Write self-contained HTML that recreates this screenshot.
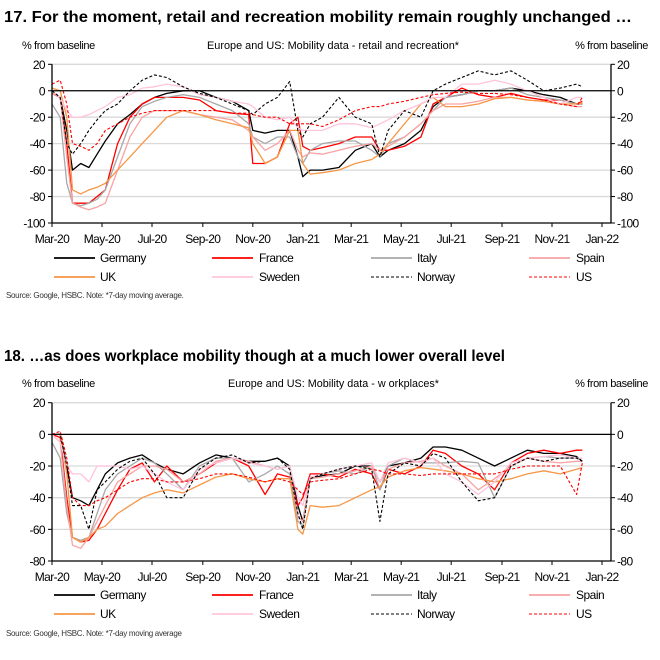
<!DOCTYPE html>
<html><head><meta charset="utf-8"><style>
body{margin:0;background:#fff;}
svg{display:block;font-family:"Liberation Sans",Arial,sans-serif;}
</style></head><body>
<svg id="s" width="660" height="660" viewBox="0 0 660 660">
<text x="4" y="22" font-size="16" font-weight="bold" textLength="628" lengthAdjust="spacingAndGlyphs">17. For the moment, retail and recreation mobility remain roughly unchanged …</text>
<text x="22" y="49" font-size="11" letter-spacing="-0.4">% from baseline</text>
<text x="207" y="49" font-size="11" textLength="252" lengthAdjust="spacingAndGlyphs">Europe and US: Mobility data - retail and recreation*</text>
<text x="648" y="49" font-size="11" letter-spacing="-0.4" text-anchor="end">% from baseline</text>
<text x="6" y="298" font-size="8" letter-spacing="-0.3" fill="#333">Source: Google, HSBC. Note: *7-day moving average.</text>
<text x="4" y="361" font-size="16" font-weight="bold" textLength="501" lengthAdjust="spacingAndGlyphs">18. …as does workplace mobility though at a much lower overall level</text>
<text x="22" y="387" font-size="11" letter-spacing="-0.4">% from baseline</text>
<text x="228" y="387" font-size="11" textLength="211" lengthAdjust="spacingAndGlyphs">Europe and US: Mobility data - w orkplaces*</text>
<text x="648" y="387" font-size="11" letter-spacing="-0.4" text-anchor="end">% from baseline</text>
<text x="6" y="636" font-size="8" letter-spacing="-0.3" fill="#333">Source: Google, HSBC. Note: *7-day moving average</text>
</svg>
<script>
const seriesNames=["Germany","France","Italy","Spain","UK","Sweden","Norway","US"];
const xTickLabels=["Mar-20","May-20","Jul-20","Sep-20","Nov-20","Jan-21","Mar-21","May-21","Jul-21","Sep-21","Nov-21","Jan-22"];
const xTickDays=[0,61,122,184,245,306,365,426,487,549,610,671];
const yTicks1=[20,0,-20,-40,-60,-80,-100];
const yTicks2=[20,0,-20,-40,-60,-80];
const dates1=[0,10,18,25,35,45,55,65,80,95,110,125,140,160,180,200,220,240,245,260,275,290,300,306,315,330,350,370,390,400,410,430,450,465,480,500,520,540,560,580,600,620,640,647];
const retailGermany=[-2,-5,-30,-60,-55,-58,-48,-38,-25,-18,-10,-5,-2,0,0,-5,-8,-15,-30,-32,-30,-30,-50,-65,-60,-60,-58,-45,-40,-50,-45,-40,-30,-12,-5,-3,0,0,2,0,-3,-5,-10,-10];
const retailFrance=[-2,-5,-40,-85,-85,-85,-80,-75,-40,-20,-10,-5,-5,-5,-7,-15,-17,-18,-55,-55,-50,-25,-20,-42,-45,-43,-40,-35,-35,-45,-45,-42,-35,-10,-5,2,-3,-5,-2,-5,-7,-7,-10,-8];
const retailItaly=[-10,-20,-70,-85,-87,-85,-82,-75,-50,-25,-12,-8,-5,-3,-5,-10,-15,-25,-35,-40,-35,-35,-50,-55,-45,-40,-38,-38,-45,-50,-40,-35,-25,-15,-5,-3,0,0,2,-3,-5,-7,-10,-10];
const retailSpain=[-2,-5,-50,-85,-88,-90,-88,-85,-60,-35,-20,-15,-15,-15,-18,-20,-22,-30,-35,-45,-40,-30,-45,-50,-47,-48,-45,-42,-40,-45,-42,-35,-25,-15,-10,-10,-8,-5,-5,-7,-8,-10,-12,-12];
const retailUK=[2,0,-20,-75,-78,-75,-73,-70,-60,-50,-40,-30,-20,-15,-18,-22,-25,-28,-40,-55,-50,-30,-30,-55,-63,-62,-60,-55,-52,-48,-40,-25,-10,-5,-12,-12,-10,-6,-5,-7,-8,-10,-10,-9];
const retailSweden=[0,-5,-15,-20,-20,-18,-15,-12,-5,-3,2,3,5,3,-3,-5,-8,-10,-12,-20,-22,-20,-28,-30,-30,-30,-25,-25,-28,-25,-22,-15,-10,-5,-5,5,5,8,5,0,-5,-10,-5,-5];
const retailNorway=[0,-5,-40,-48,-40,-30,-22,-15,-10,0,8,12,10,3,-2,-5,-10,-15,-18,-10,-5,7,-30,-35,-25,-20,-5,-20,-25,-50,-30,-15,-20,0,5,10,15,12,15,8,0,2,5,3];
const retailUS=[5,8,-10,-40,-42,-45,-40,-30,-25,-20,-17,-15,-15,-15,-15,-15,-17,-17,-18,-20,-20,-25,-25,-25,-25,-27,-22,-15,-12,-12,-10,-8,-5,-3,-2,-1,-2,-2,-3,-5,-7,-10,-12,-5];
const dates2=[0,10,18,25,35,45,55,65,80,95,110,125,140,160,180,200,220,240,260,275,290,300,306,315,330,350,370,390,400,410,430,450,465,480,500,520,540,560,580,600,620,640,647];
const workGermany=[0,0,-20,-40,-42,-45,-35,-25,-18,-15,-13,-18,-22,-25,-18,-13,-15,-17,-17,-15,-20,-45,-55,-28,-26,-25,-20,-20,-30,-20,-18,-15,-8,-8,-10,-15,-20,-15,-10,-12,-12,-14,-17];
const workFrance=[0,-2,-40,-65,-68,-67,-60,-50,-35,-22,-18,-30,-20,-30,-25,-18,-15,-20,-38,-25,-27,-45,-40,-25,-25,-27,-22,-25,-35,-22,-25,-20,-10,-12,-20,-25,-35,-18,-12,-10,-12,-10,-10];
const workItaly=[-5,-15,-50,-65,-67,-65,-50,-35,-25,-20,-15,-18,-25,-35,-20,-15,-15,-30,-25,-20,-25,-55,-58,-28,-25,-23,-25,-20,-35,-20,-15,-18,-18,-18,-17,-18,-40,-20,-15,-14,-15,-15,-15];
const workSpain=[0,-5,-45,-70,-72,-65,-55,-45,-30,-25,-20,-20,-22,-30,-25,-17,-15,-17,-20,-22,-20,-52,-55,-28,-27,-25,-23,-20,-30,-22,-18,-17,-15,-20,-25,-35,-28,-20,-15,-17,-18,-17,-17];
const workUK=[0,0,-25,-65,-68,-65,-60,-58,-50,-45,-40,-37,-35,-37,-32,-27,-25,-28,-30,-28,-28,-60,-63,-45,-46,-45,-40,-35,-33,-27,-23,-21,-22,-23,-25,-28,-30,-28,-25,-23,-25,-22,-21];
const workSweden=[0,-5,-20,-25,-25,-30,-20,-20,-20,-22,-20,-25,-30,-35,-22,-18,-15,-18,-20,-22,-20,-40,-45,-27,-25,-22,-20,-18,-30,-18,-15,-18,-15,-25,-30,-38,-30,-18,-15,-14,-13,-15,-15];
const workNorway=[0,0,-20,-45,-45,-60,-35,-30,-22,-17,-15,-25,-40,-40,-22,-15,-13,-18,-17,-15,-22,-50,-60,-28,-25,-22,-20,-22,-55,-25,-18,-20,-12,-15,-30,-42,-40,-20,-15,-17,-15,-15,-17];
const workUS=[0,2,-15,-40,-45,-45,-42,-40,-35,-30,-28,-28,-30,-30,-28,-25,-25,-27,-30,-28,-30,-35,-38,-30,-29,-28,-25,-22,-23,-25,-25,-26,-25,-25,-25,-25,-25,-22,-20,-20,-20,-38,-18];

const styles=[
 {c:"#000000",d:"",w:1.3},{c:"#ff0000",d:"",w:1.3},{c:"#a8a8a8",d:"",w:1.3},{c:"#f7a3a3",d:"",w:1.3},
 {c:"#f79646",d:"",w:1.3},{c:"#ffc4dc",d:"",w:1.3},{c:"#000000",d:"3,2",w:1.1},{c:"#ff0000",d:"3,2",w:1.1}];
const NS="http://www.w3.org/2000/svg";
const svg=document.getElementById('s');
function mk(tag,attrs,parent){const e=document.createElementNS(NS,tag);for(const k in attrs)e.setAttribute(k,attrs[k]);(parent||svg).appendChild(e);return e;}
const L=52,R=611;
function X(d){return 52+d*550/671;}

function drawChart(id,yTop,yBot,vMax,vMin,ticks,dates,series,xLabY,legY1){
  const g=mk('g',{});
  
  
  const Y=v=>yTop+(vMax-v)*(yBot-yTop)/(vMax-vMin);
  ticks.forEach(t=>{
    if(t!==0&&t!==vMin){const gl=mk('line',{x1:L,x2:R,y1:Y(t),y2:Y(t),stroke:"#d9d9d9","stroke-width":1.3},g);
      
      }
    const tl=mk('text',{x:L-7,y:Y(t)+4.5,"font-size":12,"text-anchor":"end","letter-spacing":"-0.6"},g);tl.textContent=t;
    
    
    const tr=mk('text',{x:R+6,y:Y(t)+4.5,"font-size":12,"letter-spacing":"-0.6"},g);tr.textContent=t;
    
    
    mk('line',{x1:L-4,x2:L,y1:Y(t),y2:Y(t),stroke:"#000"},g);
    mk('line',{x1:R,x2:R+4,y1:Y(t),y2:Y(t),stroke:"#000"},g);
  });
  xTickDays.forEach((d,i)=>{
    mk('line',{x1:X(d),x2:X(d),y1:yBot,y2:yBot+4,stroke:"#000"},g);
    const t=mk('text',{x:X(d),y:xLabY,"font-size":12,"text-anchor":"middle","letter-spacing":"-0.6"},g);t.textContent=xTickLabels[i];
    
    
  });
  series.forEach((vals,i)=>{
    const st=styles[i];
    const p=mk('path',{d:vals.map((v,j)=>(j?'L':'M')+X(dates[j]).toFixed(1)+','+Y(v).toFixed(1)).join(''),fill:"none",stroke:st.c,"stroke-width":st.w,"stroke-dasharray":st.d,"stroke-linejoin":"round"},g);
    
    
  });
  const zl=mk('line',{x1:L,x2:R,y1:Y(0),y2:Y(0),stroke:"#000","stroke-width":1.3},g);
  
  
  mk('line',{x1:L,x2:L,y1:yTop,y2:yBot,stroke:"#000","stroke-width":1.3},g);
  mk('line',{x1:R,x2:R,y1:yTop,y2:yBot,stroke:"#000","stroke-width":1.3},g);
  mk('line',{x1:L,x2:R,y1:yBot,y2:yBot,stroke:"#000","stroke-width":1.3},g);
  const cols=[[54,100],[212,259],[371,417],[529,576]];
  seriesNames.forEach((n,i)=>{
    const c=cols[i%4],yy=legY1+(i<4?0:19),st=styles[i];
    const lg=mk('g',{},g);
    
    
    mk('line',{x1:c[0],x2:c[0]+41,y1:yy-4,y2:yy-4,stroke:st.c,"stroke-width":st.d?1.1:1.8,"stroke-dasharray":st.d},lg);
    const t=mk('text',{x:c[1],y:yy,"font-size":12,"letter-spacing":"-0.5"},lg);t.textContent=n;
  });
}
drawChart('retail',64.3,223,20,-100,yTicks1,dates1,[retailGermany,retailFrance,retailItaly,retailSpain,retailUK,retailSweden,retailNorway,retailUS],243,262);
drawChart('workplace',402.7,561,20,-80,yTicks2,dates2,[workGermany,workFrance,workItaly,workSpain,workUK,workSweden,workNorway,workUS],581,599);
</script>
</body></html>
